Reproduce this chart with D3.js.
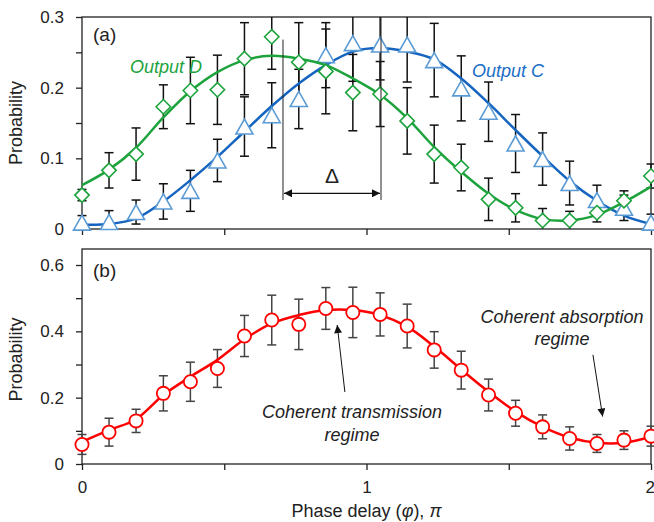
<!DOCTYPE html>
<html>
<head>
<meta charset="utf-8">
<style>
  body { margin: 0; background: #fff; }
  text { font-family: "Liberation Sans", Arial, sans-serif; fill: #222; }
  .tick text { font-size: 17px; fill: #222; }
  .tick line { stroke: #222; stroke-width: 1.3; }
  .note { font-style: italic; font-size: 18px; }
</style>
</head>
<body>
<script src="https://d3js.org/d3.v7.min.js"></script>
<script>
// phase delay in units of pi
var phase = [0, 0.095, 0.19, 0.286, 0.381, 0.476, 0.571, 0.667, 0.762, 0.857, 0.952,
             1.048, 1.143, 1.238, 1.333, 1.429, 1.524, 1.619, 1.714, 1.81, 1.905, 2];

// panel (a): output D (green diamonds)
var outD    = [0.048, 0.083, 0.106, 0.173, 0.196, 0.197, 0.241, 0.272, 0.236, 0.223, 0.193,
               0.191, 0.153, 0.106, 0.087, 0.042, 0.030, 0.012, 0.012, 0.023, 0.040, 0.075];
var outDErr = [0.008, 0.025, 0.037, 0.031, 0.047, 0.049, 0.051, 0.046, 0.056, 0.060, 0.054,
               0.046, 0.047, 0.041, 0.033, 0.030, 0.020, 0.017, 0.013, 0.013, 0.014, 0.017];
var fitD    = [0.062, 0.084, 0.115, 0.158, 0.195, 0.222, 0.239, 0.245, 0.241, 0.232, 0.213,
               0.190, 0.157, 0.116, 0.081, 0.050, 0.027, 0.014, 0.012, 0.020, 0.038, 0.060];

// panel (a): output C (blue triangles)
var outC    = [0.009, 0.010, 0.024, 0.039, 0.054, 0.097, 0.145, 0.161, 0.184, 0.246, 0.263,
               0.261, 0.261, 0.239, 0.199, 0.166, 0.121, 0.099, 0.065, 0.041, 0.030, 0.009];
var outCErr = [0.010, 0.016, 0.017, 0.025, 0.029, 0.030, 0.042, 0.046, 0.042, 0.046, 0.054,
               0.050, 0.053, 0.052, 0.046, 0.042, 0.041, 0.037, 0.031, 0.021, 0.018, 0.012];
var fitC    = [0.006, 0.007, 0.015, 0.039, 0.069, 0.102, 0.138, 0.174, 0.206, 0.232, 0.251,
               0.256, 0.251, 0.240, 0.213, 0.178, 0.140, 0.103, 0.068, 0.040, 0.019, 0.007];

// panel (b): total probability (red circles)
var prob    = [0.059, 0.096, 0.130, 0.213, 0.248, 0.288, 0.386, 0.434, 0.421, 0.469, 0.457,
               0.451, 0.416, 0.344, 0.283, 0.208, 0.153, 0.112, 0.077, 0.062, 0.072, 0.084];
var probErr = [0.030, 0.042, 0.035, 0.053, 0.059, 0.057, 0.062, 0.075, 0.076, 0.063, 0.076,
               0.065, 0.066, 0.055, 0.057, 0.048, 0.039, 0.036, 0.035, 0.027, 0.028, 0.030];
var fitProb = [0.067, 0.102, 0.135, 0.208, 0.263, 0.314, 0.376, 0.424, 0.449, 0.464, 0.464,
               0.449, 0.414, 0.354, 0.285, 0.218, 0.158, 0.112, 0.080, 0.064, 0.064, 0.082];

// ticks
var xTicks = [0, 0.5, 1, 1.5, 2];
var xTickLabels = ["0", "", "1", "", "2"];
var yTicksA = [0, 0.05, 0.1, 0.15, 0.2, 0.25, 0.3];
var yTickLabelsA = ["0", "", "0.1", "", "0.2", "", "0.3"];
var yTicksB = [0, 0.1, 0.2, 0.3, 0.4, 0.5, 0.6];
var yTickLabelsB = ["0", "", "0.2", "", "0.4", "", "0.6"];

var width = 654, height = 522;
var green = "#1ca33c", blueLine = "#1565c0", blueMark = "#5b9bd5", red = "#ff0000";

var x = d3.scaleLinear().domain([0, 2]).range([82, 651]);
var yA = d3.scaleLinear().domain([0, 0.3]).range([229, 17]);
var yB = d3.scaleLinear().domain([0, 0.6]).range([464, 265]);
var boxBTop = 249;

var svg = d3.select("body").append("svg")
    .attr("width", width)
    .attr("height", height);

svg.append("rect").attr("width", width).attr("height", height).attr("fill", "#fff");

var defs = svg.append("defs");
defs.append("clipPath").attr("id", "clipA")
  .append("rect").attr("x", 0).attr("y", yA(0.3)).attr("width", width).attr("height", yA(0) - yA(0.3));
defs.append("marker")
    .attr("id", "arrow")
    .attr("viewBox", "0 0 10 10")
    .attr("refX", 10).attr("refY", 5)
    .attr("markerWidth", 10).attr("markerHeight", 8)
    .attr("markerUnits", "userSpaceOnUse")
    .attr("orient", "auto-start-reverse")
  .append("path").attr("d", "M0,0L10,5L0,10Z").attr("fill", "#111");

// boxes
svg.append("rect")
    .attr("x", x(0)).attr("y", yA(0.3))
    .attr("width", x(2) - x(0)).attr("height", yA(0) - yA(0.3))
    .attr("fill", "none").attr("stroke", "#222").attr("stroke-width", 1.3);
svg.append("rect")
    .attr("x", x(0)).attr("y", boxBTop)
    .attr("width", x(2) - x(0)).attr("height", yB(0) - boxBTop)
    .attr("fill", "none").attr("stroke", "#222").attr("stroke-width", 1.3);

// axes
function styleAxis(g) {
  g.select(".domain").remove();
}
svg.append("g").attr("transform", "translate(0," + yA(0) + ")")
    .call(d3.axisBottom(x).tickValues(xTicks).tickSize(6).tickFormat(function() { return ""; }))
    .call(styleAxis);
var xAxisB = svg.append("g").attr("transform", "translate(0," + yB(0) + ")")
    .call(d3.axisBottom(x).tickValues(xTicks).tickSize(6).tickPadding(11)
      .tickFormat(function(d, i) { return xTickLabels[i]; }))
    .call(styleAxis);
// keep the last label inside the page edge
xAxisB.selectAll(".tick text").filter(function(d) { return d === 2; })
    .attr("text-anchor", "end").attr("dx", "3.5");
svg.append("g").attr("transform", "translate(" + x(0) + ",0)")
    .call(d3.axisLeft(yA).tickValues(yTicksA).tickSize(6).tickPadding(12)
      .tickFormat(function(d, i) { return yTickLabelsA[i]; }))
    .call(styleAxis);
svg.append("g").attr("transform", "translate(" + x(0) + ",0)")
    .call(d3.axisLeft(yB).tickValues(yTicksB).tickSize(6).tickPadding(12)
      .tickFormat(function(d, i) { return yTickLabelsB[i]; }))
    .call(styleAxis);
svg.selectAll(".tick text").attr("fill", "#222").style("font-family", "'Liberation Sans', Arial, sans-serif");

// axis titles
svg.append("text")
    .attr("transform", "translate(22," + ((yA(0) + yA(0.3)) / 2) + ") rotate(-90)")
    .attr("text-anchor", "middle").style("font-size", "18px").text("Probability");
svg.append("text")
    .attr("transform", "translate(22," + ((yB(0) + boxBTop) / 2 + 3) + ") rotate(-90)")
    .attr("text-anchor", "middle").style("font-size", "18px").text("Probability");
var xt = svg.append("text").attr("x", x(1)).attr("y", 517)
    .attr("text-anchor", "middle").style("font-size", "18px");
xt.append("tspan").text("Phase delay (");
xt.append("tspan").style("font-style", "italic").text("\u03C6");
xt.append("tspan").text("), ");
xt.append("tspan").style("font-style", "italic").text("\u03C0");

// panel labels
svg.append("text").attr("x", 93).attr("y", 41).style("font-size", "19px").text("(a)");
svg.append("text").attr("x", 93).attr("y", 277).style("font-size", "19px").text("(b)");

// ---- panel (a) ----
function errorBars(g, vals, errs, yScale, color) {
  var sel = g.selectAll(null).data(phase).enter().append("g")
      .attr("stroke", color).attr("stroke-width", 1.5).attr("fill", "none");
  sel.append("line")
      .attr("x1", function(d) { return x(d); }).attr("x2", function(d) { return x(d); })
      .attr("y1", function(d, i) { return yScale(vals[i] + errs[i]); })
      .attr("y2", function(d, i) { return yScale(vals[i] - errs[i]); });
  sel.append("line")
      .attr("x1", function(d) { return x(d) - 4.5; }).attr("x2", function(d) { return x(d) + 4.5; })
      .attr("y1", function(d, i) { return yScale(vals[i] + errs[i]); })
      .attr("y2", function(d, i) { return yScale(vals[i] + errs[i]); });
  sel.append("line")
      .attr("x1", function(d) { return x(d) - 4.5; }).attr("x2", function(d) { return x(d) + 4.5; })
      .attr("y1", function(d, i) { return yScale(vals[i] - errs[i]); })
      .attr("y2", function(d, i) { return yScale(vals[i] - errs[i]); });
}

var barsA = svg.append("g").attr("clip-path", "url(#clipA)");
errorBars(barsA, outC, outCErr, yA, "#111");
errorBars(barsA, outD, outDErr, yA, "#111");

function fitLine(vals, yScale) {
  return d3.line()
    .x(function(d) { return x(d); })
    .y(function(d, i) { return yScale(vals[i]); })
    .curve(d3.curveCatmullRom.alpha(0.5))(phase);
}

svg.append("path").attr("d", fitLine(fitC, yA))
    .attr("fill", "none").attr("stroke", blueLine).attr("stroke-width", 2.5);
svg.append("g").selectAll("path").data(phase).enter().append("path")
    .attr("d", "M0,-7.5L8.5,7.5L-8.5,7.5Z")
    .attr("transform", function(d, i) { return "translate(" + x(d) + "," + yA(outC[i]) + ")"; })
    .attr("fill", "#fff").attr("stroke", blueMark).attr("stroke-width", 1.6);

svg.append("path").attr("d", fitLine(fitD, yA))
    .attr("fill", "none").attr("stroke", green).attr("stroke-width", 2.5);
svg.append("g").selectAll("path").data(phase).enter().append("path")
    .attr("d", "M0,-7.2L7.2,0L0,7.2L-7.2,0Z")
    .attr("transform", function(d, i) { return "translate(" + x(d) + "," + yA(outD[i]) + ")"; })
    .attr("fill", "#fff").attr("stroke", green).attr("stroke-width", 1.6);

svg.append("text").attr("class", "note").attr("x", 130).attr("y", 73)
    .style("fill", green).text("Output D");
svg.append("text").attr("class", "note").attr("x", 472).attr("y", 77)
    .style("fill", "#1a6ec8").text("Output C");

// delta annotation
var deltaL = 0.7065, deltaR = 1.051;
svg.append("line").attr("x1", x(deltaL)).attr("x2", x(deltaL))
    .attr("y1", yA(0.268)).attr("y2", yA(0.041)).attr("stroke", "#222").attr("stroke-width", 1);
svg.append("line").attr("x1", x(deltaR)).attr("x2", x(deltaR))
    .attr("y1", yA(0.3)).attr("y2", yA(0.041)).attr("stroke", "#222").attr("stroke-width", 1);
svg.append("line").attr("x1", x(deltaL) + 1).attr("x2", x(deltaR) - 1)
    .attr("y1", yA(0.0505)).attr("y2", yA(0.0505))
    .attr("stroke", "#111").attr("stroke-width", 1.3)
    .attr("marker-start", "url(#arrow)").attr("marker-end", "url(#arrow)");
svg.append("text").attr("x", (x(deltaL) + x(deltaR)) / 2).attr("y", 183)
    .attr("text-anchor", "middle").style("font-size", "21px").text("\u0394");

// ---- panel (b) ----
errorBars(svg.append("g"), prob, probErr, yB, "#444");
svg.append("path").attr("d", fitLine(fitProb, yB))
    .attr("fill", "none").attr("stroke", red).attr("stroke-width", 2.5);
svg.append("g").selectAll("circle").data(phase).enter().append("circle")
    .attr("cx", function(d) { return x(d); })
    .attr("cy", function(d, i) { return yB(prob[i]); })
    .attr("r", 6.6)
    .attr("fill", "#fff").attr("stroke", red).attr("stroke-width", 1.8);

svg.append("text").attr("class", "note").attr("x", 352).attr("y", 418)
    .attr("text-anchor", "middle").text("Coherent transmission");
svg.append("text").attr("class", "note").attr("x", 352).attr("y", 441)
    .attr("text-anchor", "middle").text("regime");
svg.append("text").attr("class", "note").attr("x", 562).attr("y", 323)
    .attr("text-anchor", "middle").text("Coherent absorption");
svg.append("text").attr("class", "note").attr("x", 562).attr("y", 345)
    .attr("text-anchor", "middle").text("regime");

svg.append("line").attr("x1", x(0.924)).attr("y1", yB(0.217))
    .attr("x2", x(0.897)).attr("y2", yB(0.419))
    .attr("stroke", "#111").attr("stroke-width", 1).attr("marker-end", "url(#arrow)");
svg.append("line").attr("x1", x(1.796)).attr("y1", yB(0.329))
    .attr("x2", x(1.83)).attr("y2", yB(0.143))
    .attr("stroke", "#111").attr("stroke-width", 1).attr("marker-end", "url(#arrow)");
</script>
</body>
</html>
